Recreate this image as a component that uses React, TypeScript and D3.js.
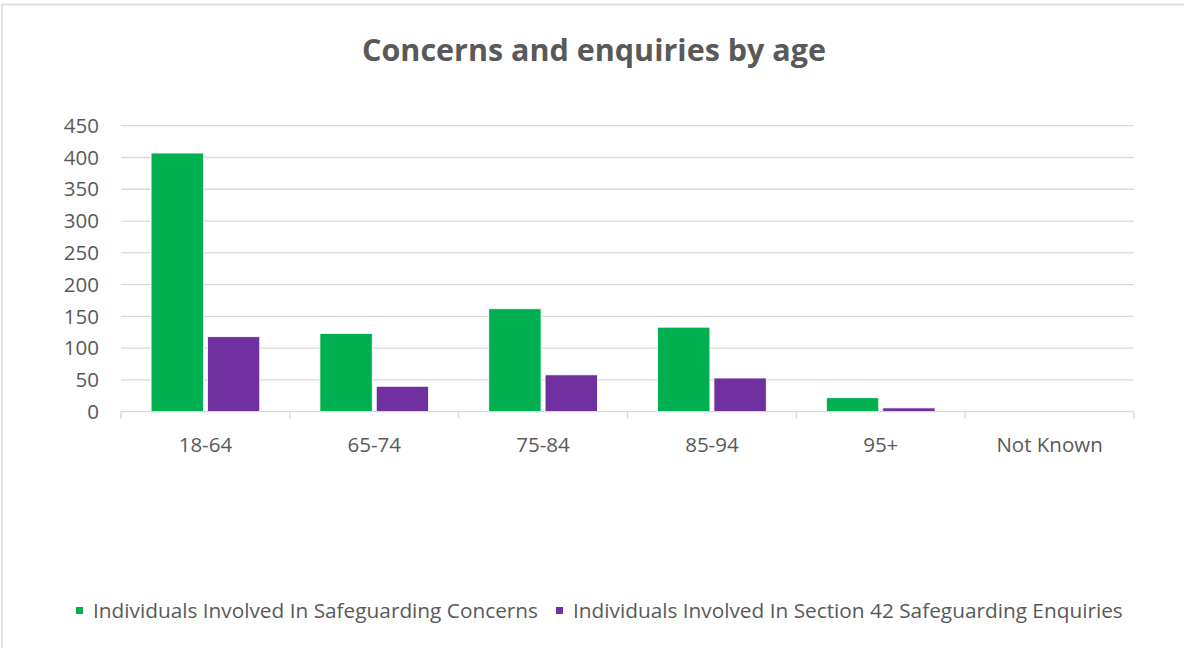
import React, { useEffect, useRef } from "react";
import * as d3 from "d3";

const categories = ["18-64", "65-74", "75-84", "85-94", "95+", "Not Known"];
const concerns = [407, 123, 162, 133, 22, 0];
const enquiries = [118, 40, 58, 53, 6, 0];
const seriesNames = [
  "Individuals Involved In Safeguarding Concerns",
  "Individuals Involved In Section 42 Safeguarding Enquiries",
];
const seriesColors = ["#00B050", "#7030A0"];
const yTicks = [0, 50, 100, 150, 200, 250, 300, 350, 400, 450];
const title = "Concerns and enquiries by age";

const W = 1184;
const H = 648;
const FONT = "'Open Sans', 'Liberation Sans', sans-serif";

export default function App() {
  const ref = useRef<SVGSVGElement>(null);
  useEffect(() => {
    const svg = d3.select(ref.current);
    svg.selectAll("*").remove();
    const left = 121, right = 1134, top = 125.7, bottom = 411.7;

    svg.append("rect").attr("x", 0).attr("y", 0).attr("width", W).attr("height", H).attr("fill", "#fff");
    svg.append("line").attr("x1", 2).attr("x2", W).attr("y1", 4.5).attr("y2", 4.5)
      .attr("stroke", "#d9d9d9").attr("stroke-width", 1.5);
    svg.append("line").attr("x1", 2).attr("x2", 2).attr("y1", 4).attr("y2", H)
      .attr("stroke", "#d9d9d9").attr("stroke-width", 1.5);

    svg.append("text").attr("x", 594).attr("y", 50).attr("dy", "0.35em").attr("text-anchor", "middle")
      .attr("font-family", FONT).attr("font-weight", "bold").attr("font-size", 30.5)
      .attr("fill", "#595959").text(title);

    const x = d3.scaleBand<string>().domain(categories).range([left, right]).paddingInner(0).paddingOuter(0);
    const y = d3.scaleLinear().domain([0, 450]).range([bottom, top]);

    const g = svg.append("g");
    g.selectAll("line.grid").data(yTicks.filter((t) => t > 0)).join("line")
      .attr("x1", left).attr("x2", right).attr("y1", (d) => y(d)).attr("y2", (d) => y(d))
      .attr("stroke", "#d9d9d9").attr("stroke-width", 1.3);

    g.selectAll("text.ytick").data(yTicks).join("text")
      .attr("x", 99).attr("y", (d) => y(d)).attr("dy", "0.35em").attr("text-anchor", "end")
      .attr("font-family", FONT).attr("font-size", 20.5).attr("fill", "#595959").text((d) => d);

    const inner = x.bandwidth();
    const barW = inner * 0.31;
    const gap = 4;
    const series = [concerns, enquiries];
    series.forEach((vals, si) => {
      g.selectAll(`rect.s${si}`).data(vals).join("rect")
        .attr("x", (_, i) => x(categories[i])! + inner / 2 - gap / 2 - barW + si * (barW + gap))
        .attr("y", (d) => y(d))
        .attr("width", barW)
        .attr("height", (d) => bottom - y(d))
        .attr("fill", seriesColors[si])
        .attr("stroke", "#fff").attr("stroke-width", 0.8);
    });

    g.append("line").attr("x1", left).attr("x2", right).attr("y1", bottom).attr("y2", bottom)
      .attr("stroke", "#d9d9d9").attr("stroke-width", 1.3);
    const tickPos = categories.map((c) => x(c)!).concat([right]);
    g.selectAll("line.xt").data(tickPos).join("line")
      .attr("x1", (d) => d).attr("x2", (d) => d).attr("y1", bottom).attr("y2", bottom + 7)
      .attr("stroke", "#d9d9d9").attr("stroke-width", 1.3);
    g.selectAll("text.xl").data(categories).join("text")
      .attr("x", (d) => x(d)! + inner / 2).attr("y", 445).attr("dy", "0.35em").attr("text-anchor", "middle")
      .attr("font-family", FONT).attr("font-size", 20.5).attr("fill", "#595959").text((d) => d);

    const legX = [76, 556];
    seriesNames.forEach((n, i) => {
      svg.append("rect").attr("x", legX[i]).attr("y", 607).attr("width", 7).attr("height", 7)
        .attr("fill", seriesColors[i]);
      svg.append("text").attr("x", legX[i] + 17).attr("y", 611).attr("dy", "0.35em")
        .attr("font-family", FONT).attr("font-size", 20.8).attr("fill", "#595959").text(n);
    });
  }, []);
  return (
    <svg ref={ref} width={W} height={H}
      style={{ display: "block", position: "absolute", left: 0, top: 0 }} />
  );
}
